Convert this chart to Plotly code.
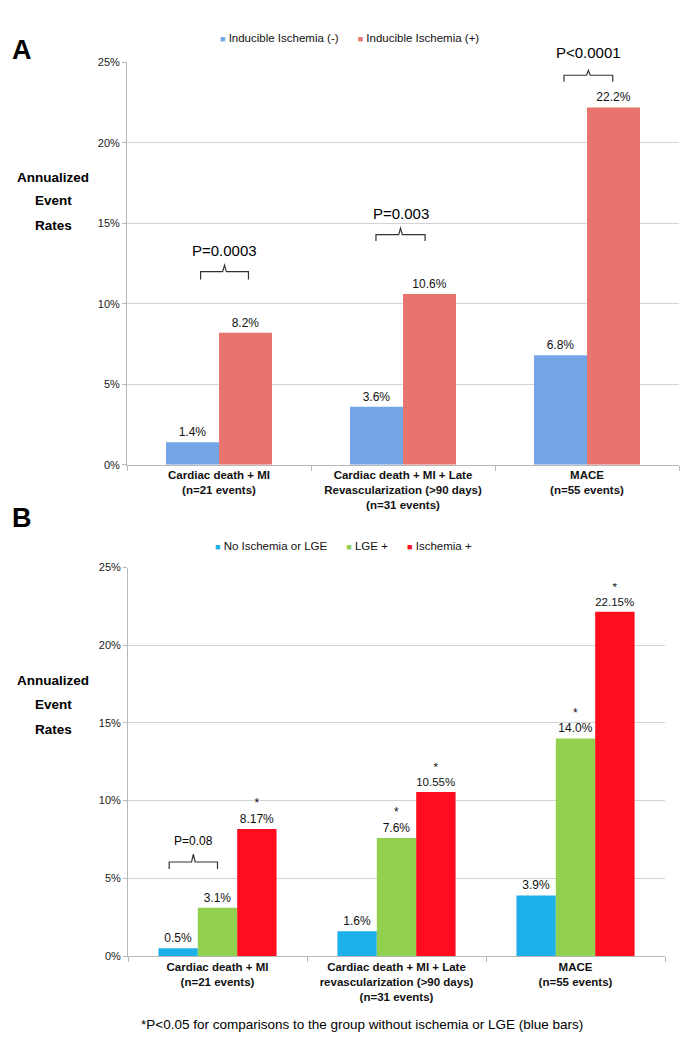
import plotly.graph_objects as go

# ---------------- data ----------------
cats_a = ["Cardiac death + MI<br>(n=21 events)",
          "Cardiac death + MI + Late<br>Revascularization (>90 days)<br>(n=31 events)",
          "MACE<br>(n=55 events)"]
names_a = ["Inducible Ischemia (-)", "Inducible Ischemia (+)"]
isch_neg = [1.4, 3.6, 6.8]
isch_pos = [8.2, 10.6, 22.2]
pvals_a = ["P=0.0003", "P=0.003", "P<0.0001"]

cats_b = ["Cardiac death + MI<br>(n=21 events)",
          "Cardiac death + MI + Late<br>revascularization (>90 days)<br>(n=31 events)",
          "MACE<br>(n=55 events)"]
names_b = ["No Ischemia or LGE", "LGE +", "Ischemia +"]
no_isch = [0.5, 1.6, 3.9]
lge_pos = [3.1, 7.6, 14.0]
isch_plus = [8.17, 10.55, 22.15]
sig_lge = [False, True, True]
sig_isch = [True, True, True]
pval_b = "P=0.08"

tick_vals = [0, 5, 10, 15, 20, 25]
tick_text = ["0%", "5%", "10%", "15%", "20%", "25%"]
ytitle_words = ["Annualized", "Event", "Rates"]
footnote = "*P<0.05 for comparisons to the group without ischemia or LGE (blue bars)"

# ---------------- style ----------------
W, H = 688, 1050
YMAX = 25
FONT = "Arial, Liberation Sans, sans-serif"
colors_a = ["#74a5e6", "#e7756e"]
colors_b = ["#1eb0ea", "#92d050", "#ff0d1f"]
GRID = "#d4d4d4"
AXIS = "#b8b8b8"


def fmt(v):
    return f"{v:.1f}%" if round(v, 1) == v else f"{v:.2f}%"


def px_x(p):
    return p / W


def px_y(p):
    return 1 - p / H


fig = go.Figure()

# Panel A bars
wa = 0.288
for i, (name, vals, col) in enumerate(zip(names_a, [isch_neg, isch_pos], colors_a)):
    fig.add_trace(go.Bar(
        x=cats_a, y=vals, name=name, marker=dict(color=col, line=dict(width=0)),
        width=wa, offset=-wa + i * wa,
        text=[fmt(v) for v in vals], textposition="outside", cliponaxis=False,
        textfont=dict(family=FONT, size=12, color="#111"),
        xaxis="x", yaxis="y", showlegend=False))

# Panel B bars
wb = 0.22
for i, (name, vals, col, sig) in enumerate(zip(
        names_b, [no_isch, lge_pos, isch_plus], colors_b,
        [[False] * 3, sig_lge, sig_isch])):
    fig.add_trace(go.Bar(
        x=cats_b, y=vals, name=name, marker=dict(color=col, line=dict(width=0)),
        width=wb, offset=-1.5 * wb + i * wb,
        text=[("*<br>" if s else "") + fmt(v) for v, s in zip(vals, sig)],
        textposition="outside", cliponaxis=False,
        textfont=dict(family=FONT, size=12, color="#111"),
        xaxis="x2", yaxis="y2", showlegend=False))

xdom_a = [px_x(127), px_x(679)]
ydom_a = [px_y(464), px_y(57)]
xdom_b = [px_x(128), px_x(665)]
ydom_b = [px_y(961), px_y(568)]

xcommon = dict(type="category", showline=True, linecolor=AXIS, linewidth=1,
               ticks="outside", tickson="boundaries", ticklen=5, tickcolor=AXIS,
               showgrid=False, tickfont=dict(family=FONT, size=11.5, color="#111", weight="bold"))
ycommon = dict(range=[0, YMAX], tickvals=tick_vals, ticktext=tick_text, showline=True,
               linecolor=AXIS, linewidth=1, showgrid=True, gridcolor=GRID, gridwidth=1,
               ticks="outside", ticklen=4, tickcolor=AXIS, zeroline=False,
               tickfont=dict(family=FONT, size=11, color="#222"))

fig.update_layout(
    width=W, height=H, margin=dict(l=0, r=0, t=0, b=0),
    paper_bgcolor="white", plot_bgcolor="white", barmode="overlay",
    xaxis=dict(domain=xdom_a, anchor="y", **xcommon),
    yaxis=dict(domain=ydom_a, anchor="x", **ycommon),
    xaxis2=dict(domain=xdom_b, anchor="y2", **xcommon),
    yaxis2=dict(domain=ydom_b, anchor="x2", **ycommon),
)

ann = []
# Panel letters
ann.append(dict(text="<b>A</b>", x=px_x(10), y=px_y(45), xref="paper", yref="paper",
                xanchor="left", yanchor="middle", showarrow=False,
                font=dict(family=FONT, size=27, color="black")))
ann.append(dict(text="<b>B</b>", x=px_x(10), y=px_y(518), xref="paper", yref="paper",
                xanchor="left", yanchor="middle", showarrow=False,
                font=dict(family=FONT, size=27, color="black")))

# y titles
for ys in ([173, 197, 222], [682, 707, 732]):
    for word, yy in zip(ytitle_words, ys):
        ann.append(dict(text=f"<b>{word}</b>", x=px_x(53), y=px_y(yy), xref="paper", yref="paper",
                        xanchor="center", yanchor="middle", showarrow=False,
                        font=dict(family=FONT, size=13.5, color="black")))


# legends (built from series names and colours)
def legend_text(names, cols):
    parts = []
    for n, c in zip(names, cols):
        parts.append(f'<span style="color:{c};font-size:9px">■</span> {n}')
    return "      ".join(parts)


ann.append(dict(text=legend_text(names_a, colors_a), x=px_x(349), y=px_y(32),
                xref="paper", yref="paper", xanchor="center", yanchor="middle",
                showarrow=False, font=dict(family=FONT, size=11.5, color="#111")))
ann.append(dict(text=legend_text(names_b, colors_b), x=px_x(343), y=px_y(546),
                xref="paper", yref="paper", xanchor="center", yanchor="middle",
                showarrow=False, font=dict(family=FONT, size=11.5, color="#111")))

# brackets panel A (category index, offsets, y levels in %)
brackets_a = [(0, -0.10, 0.16, 11.5, 12.0, 12.4, 13.3),
              (1, -0.147, 0.12, 13.9, 14.3, 14.7, 15.6),
              (2, -0.125, 0.14, 23.8, 24.2, 24.5, 25.6)]
shapes = []


def bracket(c, o0, o1, yb, yh, ys, xr, yr):
    x0, x1 = c + o0, c + o1
    xm = (x0 + x1) / 2
    path = (f"M {x0},{yb} L {x0},{yh} L {xm - 0.01},{yh} L {xm},{ys} "
            f"L {xm + 0.01},{yh} L {x1},{yh} L {x1},{yb}")
    return dict(type="path", path=path, xref=xr, yref=yr,
                line=dict(color="#333", width=1.2))


for (c, o0, o1, yb, yh, ys, yt), p in zip(brackets_a, pvals_a):
    shapes.append(bracket(c, o0, o1, yb, yh, ys, "x", "y"))
    ann.append(dict(text=p, x=c + (o0 + o1) / 2, y=yt / YMAX, xref="x", yref="y domain",
                    xanchor="center", yanchor="middle", showarrow=False,
                    font=dict(family=FONT, size=15, color="black")))

# bracket panel B
shapes.append(bracket(0, -0.27, 0.0, 5.6, 6.05, 6.55, "x2", "y2"))
ann.append(dict(text=pval_b, x=-0.135, y=7.4, xref="x2", yref="y2",
                xanchor="center", yanchor="middle", showarrow=False,
                font=dict(family=FONT, size=12, color="black")))

# footnote
ann.append(dict(text=footnote, x=px_x(139), y=px_y(1030), xref="paper", yref="paper",
                xanchor="left", yanchor="middle", showarrow=False,
                font=dict(family=FONT, size=13.5, color="black")))

fig.update_layout(annotations=ann, shapes=shapes)
fig.write_html("out.html", config={"displayModeBar": False},
               post_script="document.body.style.margin='0';")
